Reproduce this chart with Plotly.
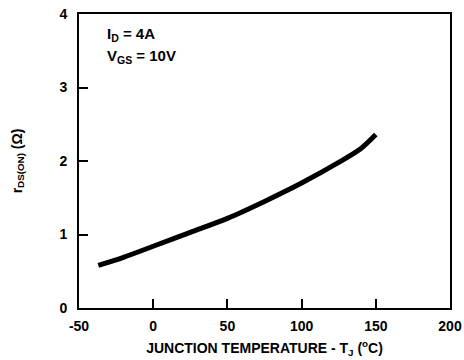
import plotly.graph_objects as go

temp_c = [-37, -20, 0, 25, 50, 75, 100, 125, 140, 150]
rds_on = [0.58, 0.69, 0.84, 1.03, 1.22, 1.45, 1.70, 1.98, 2.17, 2.36]

x_ticks = [-50, 0, 50, 100, 150, 200]
x_tick_labels = ["-50", "0", "50", "100", "150", "200"]
y_ticks = [0, 1, 2, 3, 4]
y_tick_labels = ["0", "1", "2", "3", "4"]

FONT = "Liberation Sans, Arial, sans-serif"

fig = go.Figure()
fig.add_trace(go.Scatter(x=temp_c, y=rds_on, mode="lines",
                         line=dict(color="black", width=5, shape="spline", smoothing=0.8),
                         showlegend=False, hoverinfo="skip"))

fig.update_layout(
    width=464, height=360,
    margin=dict(l=79, r=14, t=14, b=52),
    paper_bgcolor="white", plot_bgcolor="white",
    font=dict(family=FONT, color="black"),
    annotations=[
        dict(x=0.07, y=0.93, xref="paper", yref="paper", xanchor="left", yanchor="middle",
             text="I<sub>D</sub> = 4A", showarrow=False,
             font=dict(family=FONT, size=15, weight="bold")),
        dict(x=0.07, y=0.855, xref="paper", yref="paper", xanchor="left", yanchor="middle",
             text="V<sub>GS</sub> = 10V", showarrow=False,
             font=dict(family=FONT, size=15, weight="bold")),
    ],
)
fig.update_xaxes(range=[-50, 200], tickvals=x_ticks, ticktext=x_tick_labels,
                 ticks="inside", ticklen=9, tickwidth=2, ticklabelstandoff=4,
                 tickcolor="black", showline=True, linewidth=2, linecolor="black", mirror=True,
                 showgrid=False, zeroline=False, automargin=False,
                 tickfont=dict(family=FONT, size=14, weight="bold"),
                 title=dict(text="JUNCTION TEMPERATURE - T<sub>J</sub> (<sup>o</sup>C)",
                            font=dict(family=FONT, size=14, weight="bold"), standoff=10))
fig.update_yaxes(range=[0, 4], tickvals=y_ticks, ticktext=y_tick_labels,
                 ticks="inside", ticklen=9, tickwidth=2, ticklabelstandoff=7,
                 tickcolor="black", showline=True, linewidth=2, linecolor="black", mirror=True,
                 showgrid=False, zeroline=False, automargin=False,
                 tickfont=dict(family=FONT, size=14, weight="bold"),
                 title=dict(text="r<sub>DS(ON)</sub> (Ω)",
                            font=dict(family=FONT, size=14, weight="bold"), standoff=34))

fig.write_html("out.html", config={"displayModeBar": False},
               post_script="document.body.style.margin='0';")
